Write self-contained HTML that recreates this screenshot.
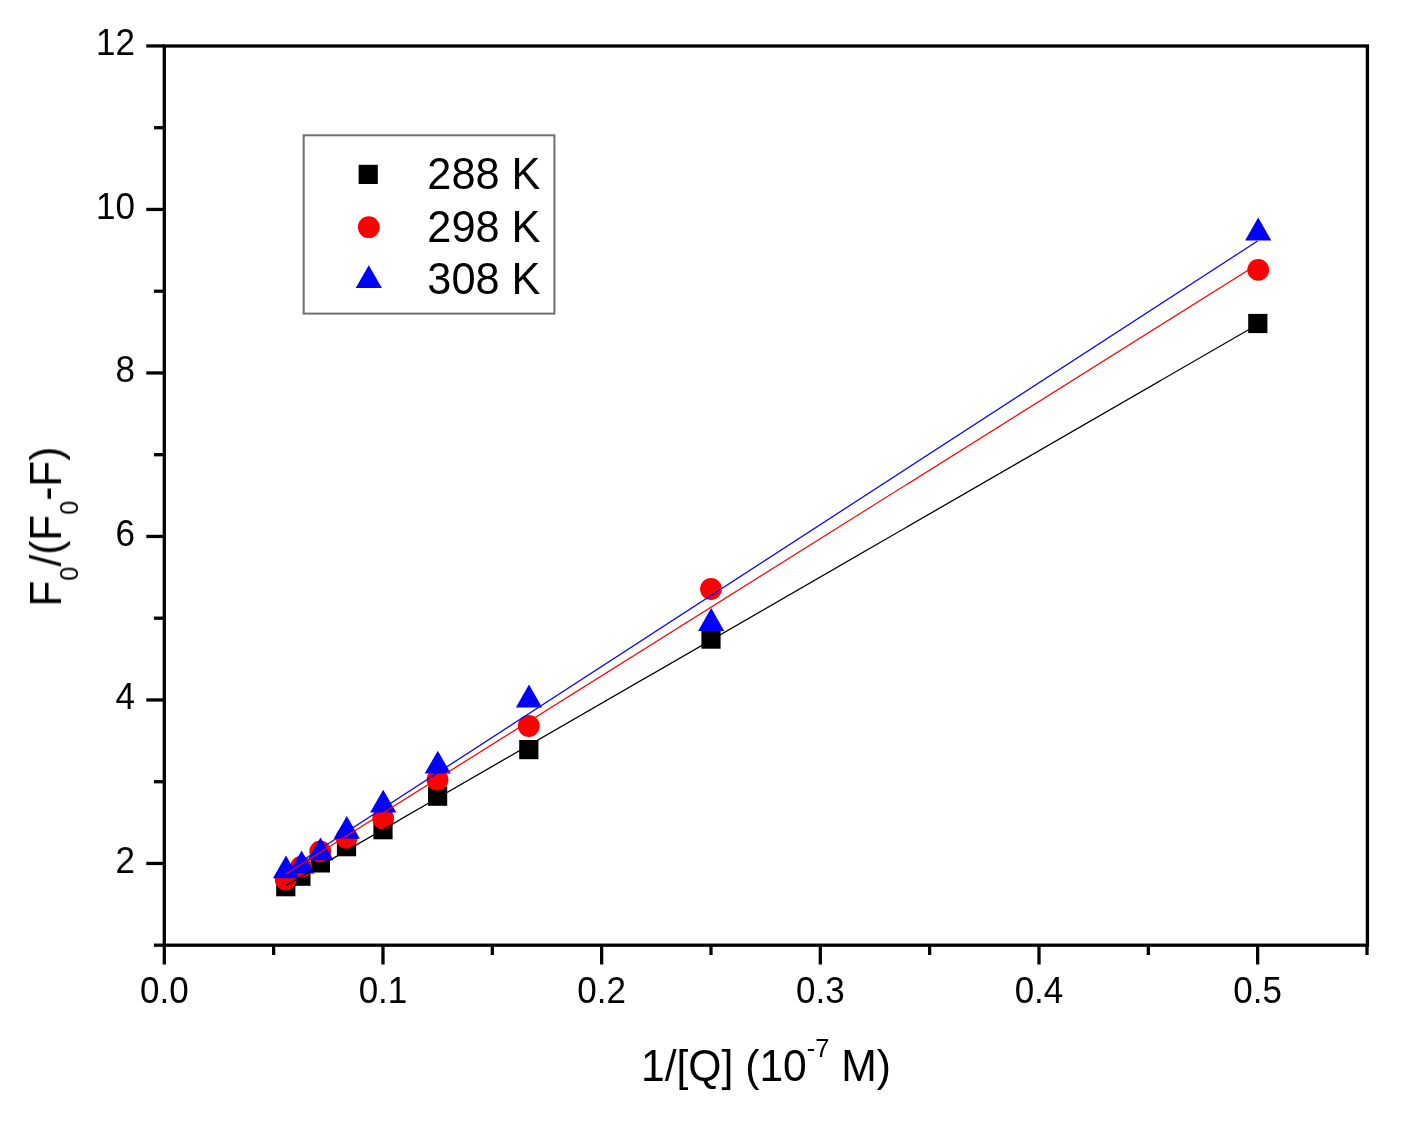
<!DOCTYPE html><html><head><meta charset="utf-8"><style>html,body{margin:0;padding:0;background:#fff;}svg{display:block;}text{font-family:"Liberation Sans",sans-serif;}</style></head><body>
<svg width="1401" height="1122" viewBox="0 0 1401 1122">
<defs><filter id="g" filterUnits="userSpaceOnUse" x="0" y="0" width="1401" height="1122"><feGaussianBlur stdDeviation="0.3"/></filter></defs>
<rect width="1401" height="1122" fill="#fff"/>
<g filter="url(#g)">
<rect x="276.20" y="877.10" width="19.2" height="19.2" fill="#000"/>
<rect x="291.30" y="866.60" width="19.2" height="19.2" fill="#000"/>
<rect x="310.80" y="853.30" width="19.2" height="19.2" fill="#000"/>
<rect x="336.90" y="837.10" width="19.2" height="19.2" fill="#000"/>
<rect x="373.40" y="820.10" width="19.2" height="19.2" fill="#000"/>
<rect x="428.00" y="786.60" width="19.2" height="19.2" fill="#000"/>
<rect x="519.20" y="740.00" width="19.2" height="19.2" fill="#000"/>
<rect x="701.40" y="629.50" width="19.2" height="19.2" fill="#000"/>
<rect x="1248.20" y="313.90" width="19.2" height="19.2" fill="#000"/>
<circle cx="285.70" cy="879.50" r="10.9" fill="#f00"/>
<circle cx="301.00" cy="867.00" r="10.9" fill="#f00"/>
<circle cx="320.20" cy="851.40" r="10.9" fill="#f00"/>
<circle cx="346.60" cy="837.80" r="10.9" fill="#f00"/>
<circle cx="383.20" cy="818.50" r="10.9" fill="#f00"/>
<circle cx="437.50" cy="779.70" r="10.9" fill="#f00"/>
<circle cx="528.80" cy="726.00" r="10.9" fill="#f00"/>
<circle cx="711.00" cy="589.00" r="10.9" fill="#f00"/>
<circle cx="1258.20" cy="269.90" r="10.9" fill="#f00"/>
<polygon points="272.90,878.20 299.10,878.20 286.00,855.40" fill="#00f"/>
<polygon points="288.50,873.40 314.70,873.40 301.60,850.60" fill="#00f"/>
<polygon points="307.40,860.20 333.60,860.20 320.50,837.40" fill="#00f"/>
<polygon points="333.70,838.70 359.90,838.70 346.80,815.90" fill="#00f"/>
<polygon points="370.10,812.50 396.30,812.50 383.20,789.70" fill="#00f"/>
<polygon points="424.70,773.60 450.90,773.60 437.80,750.80" fill="#00f"/>
<polygon points="515.90,707.40 542.10,707.40 529.00,684.60" fill="#00f"/>
<polygon points="698.10,630.90 724.30,630.90 711.20,608.10" fill="#00f"/>
<polygon points="1245.10,240.40 1271.30,240.40 1258.20,217.60" fill="#00f"/>
<line x1="285.8" y1="885.6" x2="1257.6" y2="324.5" stroke="#000" stroke-width="1.25"/>
<line x1="285.8" y1="874.0" x2="1257.6" y2="264.3" stroke="#f00" stroke-width="1.25"/>
<line x1="285.8" y1="871.3" x2="1257.6" y2="241.0" stroke="#00f" stroke-width="1.25"/>
<rect x="164.3" y="46.0" width="1203.1000000000001" height="899.2" fill="none" stroke="#000" stroke-width="3.3"/>
<line x1="154.0" y1="945.20" x2="164.3" y2="945.20" stroke="#000" stroke-width="3.3"/>
<line x1="146.3" y1="863.45" x2="164.3" y2="863.45" stroke="#000" stroke-width="3.3"/>
<line x1="154.0" y1="781.70" x2="164.3" y2="781.70" stroke="#000" stroke-width="3.3"/>
<line x1="146.3" y1="699.95" x2="164.3" y2="699.95" stroke="#000" stroke-width="3.3"/>
<line x1="154.0" y1="618.20" x2="164.3" y2="618.20" stroke="#000" stroke-width="3.3"/>
<line x1="146.3" y1="536.45" x2="164.3" y2="536.45" stroke="#000" stroke-width="3.3"/>
<line x1="154.0" y1="454.70" x2="164.3" y2="454.70" stroke="#000" stroke-width="3.3"/>
<line x1="146.3" y1="372.95" x2="164.3" y2="372.95" stroke="#000" stroke-width="3.3"/>
<line x1="154.0" y1="291.20" x2="164.3" y2="291.20" stroke="#000" stroke-width="3.3"/>
<line x1="146.3" y1="209.45" x2="164.3" y2="209.45" stroke="#000" stroke-width="3.3"/>
<line x1="154.0" y1="127.70" x2="164.3" y2="127.70" stroke="#000" stroke-width="3.3"/>
<line x1="146.3" y1="45.95" x2="164.3" y2="45.95" stroke="#000" stroke-width="3.3"/>
<line x1="164.30" y1="945.2" x2="164.30" y2="964.5" stroke="#000" stroke-width="3.3"/>
<line x1="273.63" y1="945.2" x2="273.63" y2="955.0" stroke="#000" stroke-width="3.3"/>
<line x1="382.97" y1="945.2" x2="382.97" y2="964.5" stroke="#000" stroke-width="3.3"/>
<line x1="492.31" y1="945.2" x2="492.31" y2="955.0" stroke="#000" stroke-width="3.3"/>
<line x1="601.64" y1="945.2" x2="601.64" y2="964.5" stroke="#000" stroke-width="3.3"/>
<line x1="710.97" y1="945.2" x2="710.97" y2="955.0" stroke="#000" stroke-width="3.3"/>
<line x1="820.31" y1="945.2" x2="820.31" y2="964.5" stroke="#000" stroke-width="3.3"/>
<line x1="929.64" y1="945.2" x2="929.64" y2="955.0" stroke="#000" stroke-width="3.3"/>
<line x1="1038.98" y1="945.2" x2="1038.98" y2="964.5" stroke="#000" stroke-width="3.3"/>
<line x1="1148.32" y1="945.2" x2="1148.32" y2="955.0" stroke="#000" stroke-width="3.3"/>
<line x1="1257.65" y1="945.2" x2="1257.65" y2="964.5" stroke="#000" stroke-width="3.3"/>
<line x1="1366.98" y1="945.2" x2="1366.98" y2="955.0" stroke="#000" stroke-width="3.3"/>
<text transform="translate(135,872.65) scale(1,1.04)" font-size="35" text-anchor="end" fill="#000">2</text>
<text transform="translate(135,709.15) scale(1,1.04)" font-size="35" text-anchor="end" fill="#000">4</text>
<text transform="translate(135,545.65) scale(1,1.04)" font-size="35" text-anchor="end" fill="#000">6</text>
<text transform="translate(135,382.15) scale(1,1.04)" font-size="35" text-anchor="end" fill="#000">8</text>
<text transform="translate(135,218.65) scale(1,1.04)" font-size="35" text-anchor="end" fill="#000">10</text>
<text transform="translate(135,55.15) scale(1,1.04)" font-size="35" text-anchor="end" fill="#000">12</text>
<text transform="translate(164.30,1003.3) scale(1,1.04)" font-size="35" text-anchor="middle" fill="#000">0.0</text>
<text transform="translate(382.97,1003.3) scale(1,1.04)" font-size="35" text-anchor="middle" fill="#000">0.1</text>
<text transform="translate(601.64,1003.3) scale(1,1.04)" font-size="35" text-anchor="middle" fill="#000">0.2</text>
<text transform="translate(820.31,1003.3) scale(1,1.04)" font-size="35" text-anchor="middle" fill="#000">0.3</text>
<text transform="translate(1038.98,1003.3) scale(1,1.04)" font-size="35" text-anchor="middle" fill="#000">0.4</text>
<text transform="translate(1257.65,1003.3) scale(1,1.04)" font-size="35" text-anchor="middle" fill="#000">0.5</text>
<text transform="translate(641,1081) scale(0.98,1)" font-size="43.5" fill="#000">1/[Q] (10<tspan font-size="26" dy="-24">-7</tspan><tspan dy="24"> M)</tspan></text>
<text transform="translate(61,606.5) rotate(-90) scale(0.973,1)" font-size="43.5" fill="#000">F<tspan font-size="26" dy="16.7">0</tspan><tspan dy="-16.7">/(F</tspan><tspan font-size="26" dy="16.7">0</tspan><tspan dy="-16.7">-F)</tspan></text>
<rect x="303.7" y="135.3" width="250.7" height="178.3" fill="none" stroke="#6e6e6e" stroke-width="2"/>
<rect x="358.59999999999997" y="164.8" width="19.2" height="19.2" fill="#000"/>
<circle cx="368.8" cy="227.2" r="10.9" fill="#f00"/>
<polygon points="355.7,288 381.90000000000003,288 368.8,265.2" fill="#00f"/>
<text transform="translate(427.3,189.4) scale(0.985,1)" font-size="44" fill="#000">288 K</text>
<text transform="translate(427.3,241.7) scale(0.985,1)" font-size="44" fill="#000">298 K</text>
<text transform="translate(427.3,294.0) scale(0.985,1)" font-size="44" fill="#000">308 K</text>
</g></svg></body></html>
